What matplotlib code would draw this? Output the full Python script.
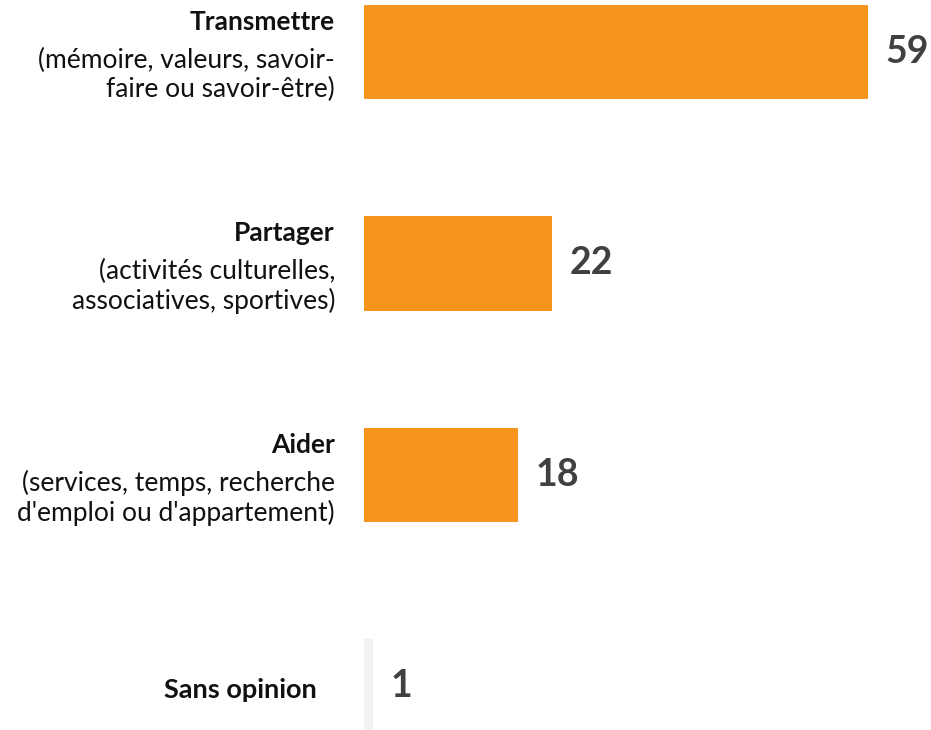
import matplotlib.pyplot as plt

# data
titles = ["Transmettre", "Partager", "Aider", "Sans opinion"]
details = ["(mémoire, valeurs, savoir-\nfaire ou savoir-être)",
           "(activités culturelles,\nassociatives, sportives)",
           "(services, temps, recherche\nd'emploi ou d'appartement)",
           ""]
values = [59, 22, 18, 1]
bar_colors = ["#F7941D", "#F7941D", "#F7941D", "#F2F2F2"]

plt.rcParams['font.family'] = ['Lato', 'DejaVu Sans']

fig = plt.figure(figsize=(9.31, 7.30), dpi=100)
ax = fig.add_axes([0, 0, 1, 1])

px_per_unit = 8.54
x0_px = 364
ax.set_xlim(-x0_px / px_per_unit, (931 - x0_px) / px_per_unit)
ax.set_ylim(3.206, -0.246)

pos = list(range(len(values)))
ax.barh(pos, values, height=0.445, color=bar_colors, left=0)

for i, (t, d, v) in enumerate(zip(titles, details, values)):
    # value label
    ax.annotate(str(v), xy=(v, i), xytext=(18, 0), textcoords='offset pixels',
                ha='left', va='center', fontsize=27, fontweight='bold',
                color='#404040')
    if d:
        ax.annotate(t, xy=(0, i), xytext=(-29, 30), textcoords='offset pixels',
                    ha='right', va='center', fontsize=19, fontweight='bold',
                    color='#111111')
        ax.annotate(d, xy=(0, i), xytext=(-29, -23), textcoords='offset pixels',
                    ha='right', va='center', fontsize=19, color='#111111',
                    linespacing=1.22, multialignment='right')
    else:
        ax.annotate(t, xy=(0, i), xytext=(-47, -4), textcoords='offset pixels',
                    ha='right', va='center', fontsize=19.5, fontweight='bold',
                    color='#111111')

ax.axis('off')
fig.savefig('out.png', dpi=100)
